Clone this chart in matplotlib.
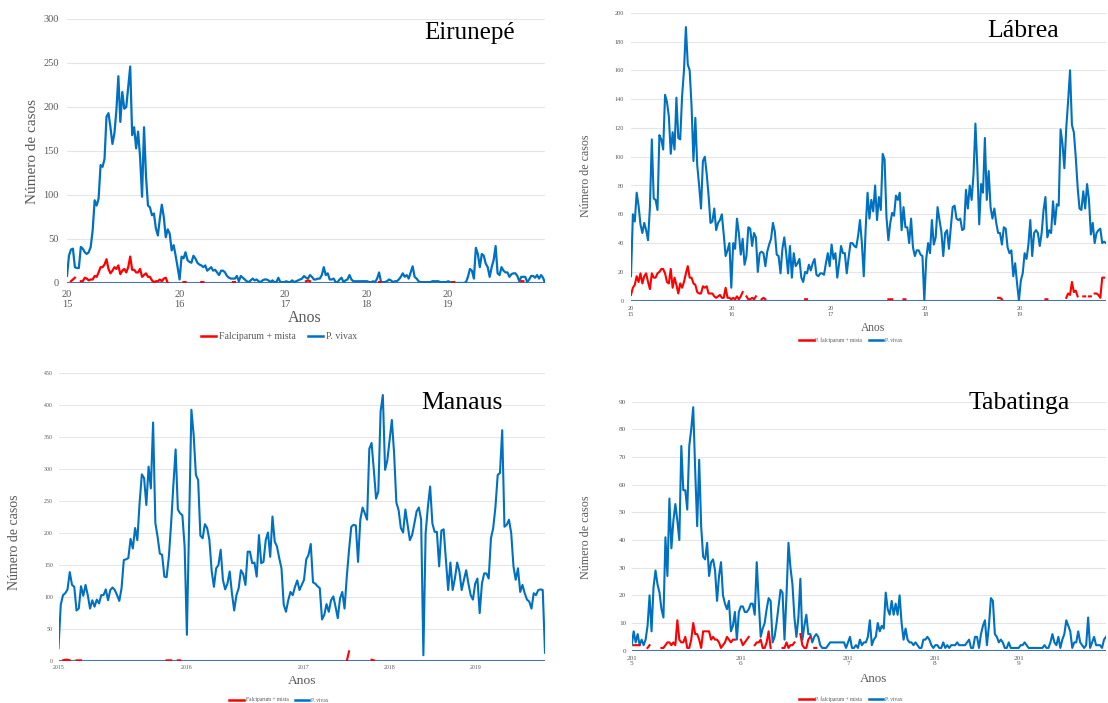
import numpy as np
import matplotlib

matplotlib.use("Agg")
import matplotlib.pyplot as plt
from matplotlib.lines import Line2D

plt.rcParams["font.family"] = ["Liberation Serif", "DejaVu Serif"]

VIVAX_COLOR = "#0070C0"
FALC_COLOR = "#FF0000"
AXIS_COLOR = "#4472C4"
GRID_COLOR = "#E6E6E6"
TEXT_GRAY = "#595959"

# ---- Eirunepé (weekly cases, 2015-2019) ----
eirunepe_vivax = [
    8, 31, 38, 39, 18, 17, 17, 41, 39, 35,
    33, 35, 41, 60, 94, 88, 96, 134, 132, 141,
    189, 193, 177, 158, 170, 196, 235, 183, 217, 198,
    200, 223, 246, 168, 177, 153, 172, 143, 98, 177,
    121, 88, 86, 77, 79, 62, 54, 73, 89, 75,
    52, 61, 56, 37, 43, 31, 18, 4, 30, 28,
    35, 26, 24, 23, 31, 28, 23, 21, 20, 18,
    20, 14, 16, 18, 14, 15, 12, 9, 14, 14,
    12, 8, 6, 5, 5, 5, 8, 2, 8, 6,
    4, 2, 1, 3, 5, 3, 4, 2, 1, 3,
    4, 4, 3, 1, 3, 1, 1, 6, 1, 1,
    1, 2, 1, 1, 3, 1, 2, 3, 4, 5, 8, 6, 5,
    9, 7, 4, 4, 5, 5, 9, 18, 9, 11,
    4, 4, 5, 1, 1, 4, 6, 1, 3, 4,
    9, 4, 2, 2, 2, 2, 2, 2, 2, 2,
    1, 1, 2, 1, 5, 12, 1, 1, 1, 2,
    4, 3, 1, 2, 2, 4, 7, 11, 7, 9,
    5, 12, 19, 7, 5, 2, 1, 1, 1, 1,
    1, 1, 2, 2, 2, 2, 1, 1, 1, 1,
    2, 1, 0, 0, 0, 0, 0, 0, 0, 1,
    7, 16, 14, 5, 40, 33, 18, 33, 31, 22,
    18, 7, 18, 26, 42, 11, 9, 18, 14, 12,
    12, 7, 10, 11, 11, 8, 2, 7, 7, 7,
    1, 4, 8, 8, 6, 9, 5, 9, 6, 0,
]
# (first week, counts) for the weeks with falciparum/mixed notifications
eirunepe_falciparum = [
    (2, [2, 4, 6]),
    (7, [2, 2, 6, 5, 3, 4, 4, 8, 7, 12, 18, 18, 21, 27, 16, 11, 14, 18, 16, 20,
         10, 14, 16, 12, 18, 30, 15, 15, 12, 12, 16, 7, 9, 11, 7, 7, 3, 1, 2, 2,
         4, 2, 5, 6, 0]),
    (59, [1, 1]), (68, [1, 1]), (84, [1, 1]), (121, [2, 3, 2]),
    (158, [1, 1]), (195, [1, 1]), (230, [2, 2]),
]
eirunepe_year_pos = [0, 56.8, 110.3, 151.7, 192.7]
eirunepe_year_labels = ["20\n15", "20\n16", "20\n17", "20\n18", "20\n19"]

# ---- Lábrea ----
labrea_vivax = [
    17, 60, 55, 75, 66, 53, 47, 54, 49, 42,
    65, 112, 71, 70, 63, 115, 112, 105, 143, 138,
    128, 102, 117, 105, 141, 113, 112, 142, 160, 190,
    164, 160, 135, 97, 127, 94, 80, 64, 97, 100,
    88, 73, 54, 55, 64, 49, 54, 56, 60, 46,
    31, 35, 40, 9, 40, 36, 57, 47, 32, 43,
    25, 31, 51, 50, 38, 47, 44, 20, 33, 34,
    33, 24, 34, 39, 43, 54, 48, 32, 31, 19,
    36, 44, 33, 19, 38, 16, 33, 24, 26, 29,
    16, 13, 20, 19, 25, 21, 26, 29, 18, 17,
    19, 19, 18, 26, 33, 24, 39, 29, 33, 16,
    26, 38, 33,
    33, 19, 30, 40, 40, 38, 37, 45, 56, 40,
    17, 50, 75, 57, 70, 62, 80, 56, 72, 63,
    102, 98, 58, 42, 54, 61, 59, 73, 70, 75,
    49, 65, 51, 51, 40, 57, 37, 31, 35, 35,
    32, 31,
    0, 29, 40, 33, 56, 39, 44, 65, 56, 48,
    31, 47, 49, 36, 51, 65, 66, 57, 56, 57,
    49, 50, 77, 64, 80, 70, 88, 123, 93, 53,
    81, 75, 113, 70, 90, 65, 57, 64, 54, 47,
    47, 39, 51, 50, 37, 33, 35, 17, 26, 12,
    0, 14, 19, 33, 29, 39, 56, 31, 47, 49,
    47, 38, 47, 63, 72, 44, 49, 47, 69, 53,
    67, 66, 119, 109, 92, 120, 139, 160, 122, 117,
    100, 79, 64, 63, 76, 64, 81, 70, 46, 54,
    40, 47, 49, 50, 40, 41, 40,
]
labrea_falciparum = [
    (0, [4, 9, 11, 17, 13, 19, 12, 17, 19, 13, 8, 19, 16, 16, 19, 20, 22, 22, 19, 13,
         12, 22, 9, 16, 11, 5, 12, 9, 13, 19, 24, 16, 16, 12, 11, 6, 5, 5, 10, 9,
         10, 5, 5, 5, 3, 2, 3, 4, 2, 2, 9, 2, 2, 1, 2, 1, 3, 1, 3, 6]),
    (61, [3, 1, 1, 2, 1, 3]), (69, [1, 2, 1]), (92, [1, 1]),
    (136, [1, 1, 1]), (144, [1, 1]), (194, [2, 2, 1]), (219, [1, 1]),
    (230, [2, 5, 4, 13, 6, 7, 3]), (239, [3, 3]), (242, [3, 3]),
    (245, [5, 5, 4, 2, 16, 16]),
]
labrea_year_pos = [0, 53.3, 105.5, 155.5, 205.3]
labrea_year_labels = ["20\n15", "20\n16", "20\n17", "20\n18", "20\n19"]

# ---- Manaus ----
manaus_vivax = [
    20, 88, 103, 106, 112, 139, 119, 116, 79, 82,
    117, 102, 119, 103, 82, 95, 85, 96, 90, 103,
    103, 112, 95, 111, 115, 111, 103, 94, 114, 158,
    159, 161, 191, 176, 208, 189, 247, 292, 286, 244,
    304, 270, 373, 216, 194, 168, 166, 132, 131, 163,
    215, 275, 331, 237, 231, 228, 179, 41, 213, 393,
    354, 291, 283, 196, 192, 214, 208, 189, 141, 116,
    145, 150, 174, 127, 112, 121, 140, 106, 79, 103,
    114, 142, 136, 119, 171, 171, 153, 154, 132, 197,
    153, 155, 189, 201, 163, 226, 187, 179, 161, 145,
    88, 77, 95, 108, 103, 116,
    126, 111, 119, 127, 159, 166, 183, 123, 121, 117,
    114, 65, 72, 89, 77, 95, 101, 85, 67, 98,
    108, 82, 132, 174, 210, 213, 212, 155, 221, 240,
    231, 221, 332, 341, 299, 254, 265, 390, 416, 299,
    314, 346, 377, 325, 248, 236, 208, 201, 237, 213,
    189, 197, 215, 234, 240, 221, 9, 200, 241, 273,
    215, 202, 202, 148, 204, 206, 158, 111, 154, 111,
    129, 154, 140, 111, 127, 142, 121, 103, 96, 121,
    129, 75, 121, 137, 137, 129, 192, 208, 241, 291,
    294, 361, 210, 213, 221, 200, 148, 127, 145, 108,
    119, 106, 96, 93, 82, 106, 103, 111, 112, 111,
    13,
]
manaus_falciparum = [
    (2, [1, 2, 2, 1]), (8, [1, 1, 1]), (48, [1, 1, 1]), (53, [1, 1]),
    (128, [0, 15]), (139, [2, 1]),
]
manaus_year_pos = [0, 56.9, 109, 147, 185.4]
manaus_year_labels = ["2015", "2016", "2017", "2018", "2019"]

# ---- Tabatinga ----
tabatinga_vivax = [
    2, 7, 3, 6, 2, 4, 2, 4, 9, 20,
    7, 23, 29, 24, 21, 15, 12, 41, 27, 55,
    37, 47, 53, 47, 40, 74, 58, 58, 51, 74,
    80, 88, 65, 45, 69, 45, 34, 33, 39, 27,
    32, 33, 29, 18, 27, 32, 20, 17, 15, 18,
    7, 9, 14, 4,
    14, 16, 16, 14, 14, 15, 17, 17, 13, 32,
    18, 5, 8, 10, 15, 19, 18, 3, 5, 10,
    16, 22, 21, 4, 20, 39, 30, 24, 12, 5,
    12, 26, 4, 9, 13, 6, 6, 3, 5, 6,
    5, 2, 1, 1, 1, 2, 3, 3, 3, 3,
    3, 3, 3, 3, 1, 3, 5, 1, 1, 2, 1, 4, 2, 3, 3, 5,
    11, 2, 4, 5, 10, 7, 9, 8, 21, 15, 13, 18, 13, 17,
    13, 20, 10, 4, 8, 4, 3, 3, 2, 3,
    2, 1, 1, 4, 4, 5, 4, 2, 1, 2,
    2, 1, 1, 3, 1, 2, 1, 2, 2, 2,
    3, 2, 2, 2, 2, 3, 4, 1, 1, 5,
    5, 1, 6, 9, 11, 2, 9,
    19, 18, 6, 5, 3, 4, 3, 1, 1, 3,
    1, 1, 1, 1, 1, 2, 2, 3, 2, 1,
    1, 1, 1, 1, 1, 1, 1, 2, 1, 1,
    3, 6, 3, 2, 5, 1, 4, 6, 11, 9,
    7, 1, 3, 3, 7, 3, 2, 1, 2, 12,
    1, 3, 5, 2, 2, 2, 1, 4, 5,
]
tabatinga_falciparum = [
    (1, [2, 2, 2, 2]), (8, [1, 2]),
    (15, [1, 1, 2, 3, 3, 2, 3, 2, 11, 4, 3, 3, 5, 1, 1, 4, 10, 6, 6, 4,
          1, 7, 7, 7, 7, 4, 5, 4, 4, 3, 1, 2, 3, 5, 4, 3, 4, 4]),
    (55, [4, 2, 3, 4, 5]), (62, [2, 3, 3, 4, 1, 1, 3, 7, 1]),
    (76, [1, 1, 3, 1, 2, 2, 3]), (85, [6, 2, 1]), (88, [1, 4, 5]), (92, [1, 1]),
]
tabatinga_year_pos = [0, 55, 109, 152.7, 195]
tabatinga_year_labels = ["201\n5", "201\n6", "201\n7", "201\n8", "201\n9"]

W, H = 1108, 703


def expand_runs(n, runs):
    series = np.full(n, np.nan)
    for start, counts in runs:
        series[start:start + len(counts)] = counts
    return series


def px_rect(left, right, top, bottom):
    return [left / W, 1 - bottom / H, (right - left) / W, (bottom - top) / H]


def draw_panel(fig, rect, vivax, falc_runs, ymax, ystep, year_pos, year_labels,
               tick_size, xpad, ypad, lw):
    ax = fig.add_axes(rect)
    n = len(vivax)
    weeks = np.arange(n)
    falc = expand_runs(n, falc_runs)
    ax.plot(weeks, falc, color=FALC_COLOR, lw=lw, solid_joinstyle="round", zorder=3)
    ax.plot(weeks, vivax, color=VIVAX_COLOR, lw=lw, solid_joinstyle="round", zorder=2)
    ax.axhline(0, color=AXIS_COLOR, lw=1.5, zorder=1.5)
    ax.set_xlim(0, n - 1)
    ax.set_ylim(0, ymax)
    ax.set_yticks(np.arange(0, ymax + 1, ystep))
    ax.grid(axis="y", color=GRID_COLOR, lw=0.8)
    ax.set_axisbelow(True)
    for side in ("top", "right", "left", "bottom"):
        ax.spines[side].set_visible(False)
    ax.set_xticks(year_pos)
    ax.set_xticklabels(year_labels, linespacing=1.1)
    ax.tick_params(axis="both", length=0, colors=TEXT_GRAY, labelsize=tick_size)
    ax.tick_params(axis="x", pad=xpad)
    ax.tick_params(axis="y", pad=ypad)
    return ax


def add_legend(fig, ax, center, size, hlen, falc_label):
    handles = [Line2D([], [], color=FALC_COLOR, lw=1.8),
               Line2D([], [], color=VIVAX_COLOR, lw=1.8)]
    ax.legend(handles, [falc_label, "P. vivax"], loc="center",
              bbox_to_anchor=(center[0] / W, 1 - center[1] / H),
              bbox_transform=fig.transFigure, ncol=2, frameon=False,
              fontsize=size, handlelength=hlen, handletextpad=0.3,
              columnspacing=1.2, labelcolor=TEXT_GRAY)


fig = plt.figure(figsize=(W / 100, H / 100), dpi=100)

ax1 = draw_panel(fig, px_rect(67, 545, 19, 283), eirunepe_vivax, eirunepe_falciparum,
                 300, 50, eirunepe_year_pos, eirunepe_year_labels, 7.5, 5, 6, 1.6)
ax1.text(0.843, 0.947, "Eirunepé", transform=ax1.transAxes, ha="center", va="center",
         fontsize=18, color="black")
fig.text(33 / W, 1 - 151 / H, "Número de casos", rotation=90, ha="center", va="center",
         fontsize=11, color=TEXT_GRAY)
fig.text(305 / W, 1 - 318 / H, "Anos", ha="center", va="center", fontsize=11.5,
         color=TEXT_GRAY)
add_legend(fig, ax1, (279, 337), 7, 1.6, "Falciparum + mista")

ax2 = draw_panel(fig, px_rect(631, 1106, 12.7, 300.7), labrea_vivax, labrea_falciparum,
                 200, 20, labrea_year_pos, labrea_year_labels, 4.5, 4, 5, 1.5)
ax2.text(0.825, 0.936, "Lábrea", transform=ax2.transAxes, ha="center", va="center",
         fontsize=18.5, color="black")
fig.text(586 / W, 1 - 176 / H, "Número de casos", rotation=90, ha="center", va="center",
         fontsize=8.6, color=TEXT_GRAY)
fig.text(873 / W, 1 - 328 / H, "Anos", ha="center", va="center", fontsize=8.3,
         color=TEXT_GRAY)
add_legend(fig, ax2, (851, 340), 4, 2.6, "P. falciparum + mista")

ax3 = draw_panel(fig, px_rect(58.5, 545, 373.3, 661), manaus_vivax, manaus_falciparum,
                 450, 50, manaus_year_pos, manaus_year_labels, 4.2, 3, 4, 1.5)
ax3.text(0.829, 0.897, "Manaus", transform=ax3.transAxes, ha="center", va="center",
         fontsize=18.5, color="black")
fig.text(15 / W, 1 - 542 / H, "Número de casos", rotation=90, ha="center", va="center",
         fontsize=10, color=TEXT_GRAY)
fig.text(302 / W, 1 - 681 / H, "Anos", ha="center", va="center", fontsize=9.7,
         color=TEXT_GRAY)
add_legend(fig, ax3, (279, 700), 4, 2.6, "Falciparum + mista")

ax4 = draw_panel(fig, px_rect(631.7, 1106, 401.7, 650.7), tabatinga_vivax,
                 tabatinga_falciparum, 90, 10, tabatinga_year_pos,
                 tabatinga_year_labels, 5.2, 3.5, 4, 1.5)
ax4.text(0.817, 0.995, "Tabatinga", transform=ax4.transAxes, ha="center", va="center",
         fontsize=18.5, color="black")
fig.text(586 / W, 1 - 537 / H, "Número de casos", rotation=90, ha="center", va="center",
         fontsize=8.7, color=TEXT_GRAY)
fig.text(874 / W, 1 - 679 / H, "Anos", ha="center", va="center", fontsize=9.4,
         color=TEXT_GRAY)
add_legend(fig, ax4, (851, 699), 4, 2.6, "P. falciparum + mista")

fig.savefig("out.png", dpi=100)
